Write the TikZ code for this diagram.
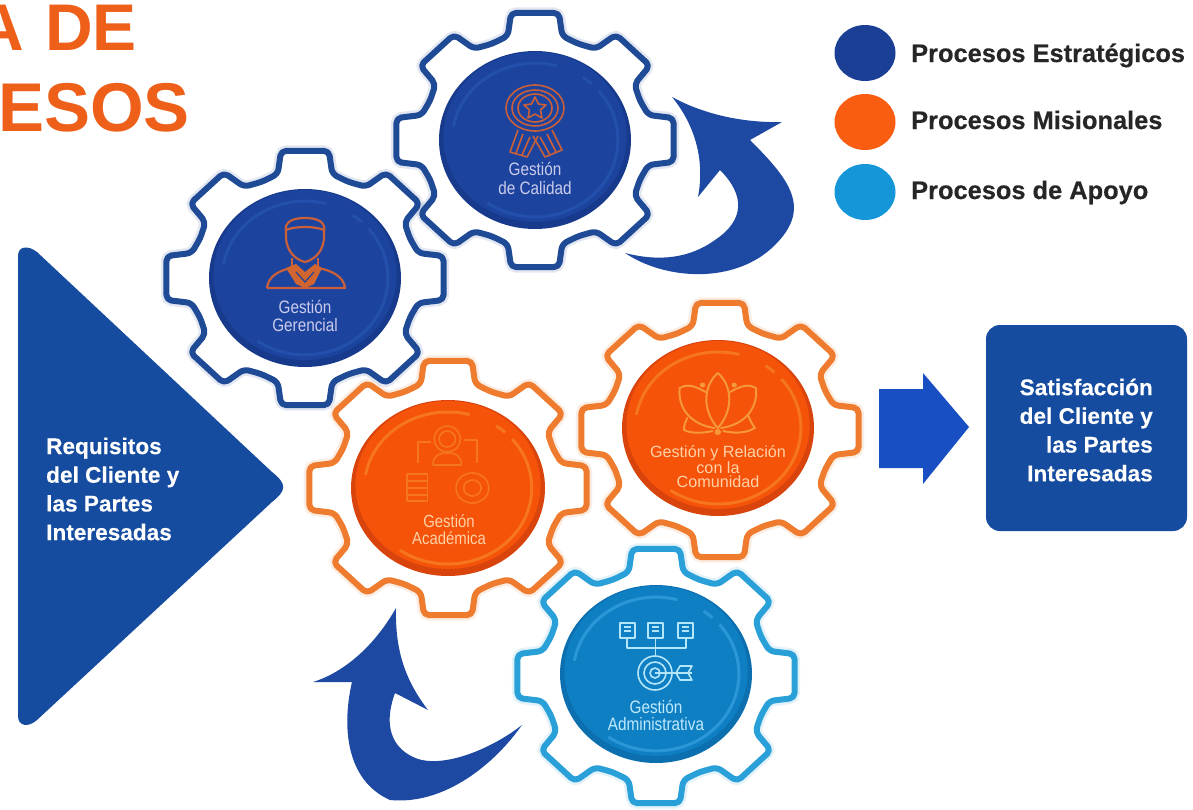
\documentclass[tikz,border=0pt]{standalone}
\usepackage{fontspec}
\setmainfont{Liberation Sans}
\newfontfamily\narrowfont[FakeStretch=0.85]{Liberation Sans}
\definecolor{bluegear}{HTML}{1F4A96}
\definecolor{bluedisc}{HTML}{1C449E}
\definecolor{bluedark}{HTML}{173A8C}
\definecolor{bluering}{HTML}{2350AC}
\definecolor{orgear}{HTML}{EE7B2E}
\definecolor{ordisc}{HTML}{F5520A}
\definecolor{ordark}{HTML}{D9430C}
\definecolor{orring}{HTML}{F5761E}
\definecolor{cygear}{HTML}{2AA0D8}
\definecolor{cydisc}{HTML}{0F7FC4}
\definecolor{cydark}{HTML}{0C70B0}
\definecolor{cyring}{HTML}{2A97D6}
\definecolor{arrowblue}{HTML}{1D49A3}
\definecolor{boxblue}{HTML}{164C9F}
\definecolor{blockblue}{HTML}{184FC2}
\definecolor{titleor}{HTML}{EE5F1A}
\definecolor{iconor}{HTML}{C9603A}
\definecolor{lotusor}{HTML}{F5983A}
\definecolor{legblue}{HTML}{1B3F94}
\definecolor{legor}{HTML}{F95D12}
\definecolor{legcy}{HTML}{1596D8}
\tikzset{
  gearline/.style={line width=6pt,fill=white,rounded corners=5pt,line join=round,
     preaction={draw=#1,line width=11pt,opacity=.13}},
  bigtext/.style={font=\bfseries\addfontfeature{FakeBold=0.3}\fontsize{22.6}{28.7}\selectfont,text=white,inner sep=0pt},
  legtext/.style={font=\bfseries\addfontfeature{FakeBold=0.4}\fontsize{25.4}{28}\selectfont,text=black!85,inner sep=0pt,anchor=base west},
  medalline/.style={draw=iconor,line width=1.6pt,line join=round},
  personline/.style={draw=iconor,line width=2.2pt,line join=round},
  lotusline/.style={draw=lotusor,line width=2pt,line join=round,line cap=round},
}
% gear: cx cy xscale linecolor
\newcommand{\makegear}[4]{%
  \begin{scope}[shift={(#1,#2)},xscale=#3]
    \draw[gearline=#4,draw=#4] (-22.5:104)
      \foreach \a in {0,45,...,270} {
        -- (\a-13.5:107) -- (\a-9.8:129) -- (\a+9.8:129) -- (\a+13.5:107) -- (\a+22.5:104)
      }
      -- (301.5:107) -- (305.2:129) -- (324.8:129) -- (328.5:107) -- cycle;
  \end{scope}}
% disc: cx cy rx ry dark main ring
\newcommand{\makedisc}[7]{%
  \begin{scope}[shift={(#1,#2)},xscale=#3/88,yscale=#4/88]
    \fill[#5] (0,0) circle[radius=88];
    \fill[#6] (0,-3) circle[radius=84];
    \draw[#7,line width=3pt] (-40:76) arc[start angle=-40,end angle=125,radius=76];
    \draw[#7,line width=3pt] (190:76) arc[start angle=190,end angle=285,radius=76];
    \draw[#7,line width=3pt] (-55:76) arc[start angle=-55,end angle=-47,radius=76];
  \end{scope}}
\begin{document}
\begin{tikzpicture}[x=1pt,y=-1pt]
\useasboundingbox (0,0) rectangle (1193,809);
\fill[white] (0,0) rectangle (1193,809);
% title
\begin{scope}
\clip (0,0) rectangle (1193,809);
\node[font=\bfseries\fontsize{66}{66}\selectfont,text=titleor,inner sep=0pt,anchor=base east] (tita) at (137,50) {A\hspace{3pt} DE};
\node[font=\bfseries\fontsize{69}{69}\selectfont,text=titleor,inner sep=0pt,anchor=base east] (titb) at (190,131) {ESOS};
\end{scope}
% triangle
\fill[boxblue] (18,256) .. controls (18,246) and (28,245) .. (37,252) -- (272,472) .. controls (287,484) and (287,490) .. (272,502) -- (37,720) .. controls (28,728) and (18,726) .. (18,716) -- cycle;
\node[bigtext,anchor=west,align=left] (req) at (46,489) {Requisitos\\del Cliente y\\las Partes\\Interesadas};
% gears
\makegear{535}{140}{1.09}{bluegear}
\makegear{305}{278}{1.09}{bluegear}
\makegear{656}{676}{1.09}{cygear}
\makegear{720}{430}{1.09}{orgear}
\makegear{448}{488}{1.09}{orgear}
\makedisc{535}{140}{96}{89}{bluedark}{bluedisc}{bluering}
\makedisc{305}{278}{96}{89}{bluedark}{bluedisc}{bluering}
\makedisc{656}{674}{96}{89}{cydark}{cydisc}{cyring}
\makedisc{718}{428}{96}{88}{ordark}{ordisc}{orring}
\makedisc{448}{488}{97}{88}{ordark}{ordisc}{orring}
% medal icon
\draw[medalline] (535,108) ellipse[x radius=29,y radius=23];
\draw[medalline] (535,108) ellipse[x radius=23,y radius=18];
\draw[medalline] (535,108) ellipse[x radius=17,y radius=14];
\draw[medalline] (535,97) -- (538.5,104) -- (546,105) -- (540.5,110) -- (542,118) -- (535,114) -- (528,118) -- (529.5,110) -- (524,105) -- (531.5,104) -- cycle;
\draw[medalline] (518,130) -- (510,152) -- (527,157) -- (538,136);
\draw[medalline] (552,130) -- (562,150) -- (545,157) -- (533,136);
\draw[medalline] (523,134) -- (516,153) (530,137) -- (522,155);
\draw[medalline] (547,134) -- (556,152) (540,137) -- (550,155);
% person icon
\draw[personline] (286,232) .. controls (284,222) and (292,218) .. (305,218) .. controls (318,218) and (326,222) .. (324,232) .. controls (325,245) and (320,258) .. (305,262) .. controls (290,258) and (285,245) .. (286,232) -- cycle;
\draw[personline] (286,230) .. controls (295,226) and (315,226) .. (324,230);
\draw[personline] (292,258) -- (292,268) (318,258) -- (318,268);
\draw[personline] (267,288) .. controls (268,276) and (280,270) .. (292,268) (318,268) .. controls (330,270) and (344,276) .. (345,288) -- (267,288);
\fill[iconor!85!orange] (286,268) -- (296,264) -- (305,272) -- (315,264) -- (322,268) -- (314,284) -- (305,288) -- (296,284) -- cycle;
\draw[bluedisc,line width=1.2pt] (296,272) -- (305,282) -- (314,272);
% academic icon
\begin{scope}[shift={(300,0)},xscale=1.0909,shift={(-300,0)},draw=orring,line width=1.6pt,line join=round]
\draw (435,439) circle[x radius=7.5,y radius=8];
\draw (435,439) circle[x radius=12,y radius=13];
\draw (422,465) .. controls (422,455) and (428,453) .. (435,453) .. controls (442,453) and (448,455) .. (448,465) -- cycle;
\draw (408,463) -- (408,442) -- (420,442);
\draw (450,440) -- (462,440) -- (462,463);
\draw (398,474) rectangle (417,501);
\draw (398,481) -- (417,481) (398,488) -- (417,488) (398,495) -- (417,495);
\draw (458,488) circle[radius=15];
\draw (458,488) circle[radius=8];
\end{scope}
% lotus icon
\begin{scope}[shift={(300,0)},xscale=1.0909,shift={(-300,0)}]
\draw[lotusline] (683,373) .. controls (670,385) and (668,410) .. (683,428) .. controls (698,410) and (696,385) .. (683,373);
\draw[lotusline] (672,392) .. controls (660,385) and (655,384) .. (648,388) .. controls (646,410) and (660,425) .. (680,428);
\draw[lotusline] (694,392) .. controls (706,385) and (711,384) .. (718,388) .. controls (720,410) and (706,425) .. (686,428);
\draw[lotusline] (655,418) .. controls (652,425) and (652,428) .. (652,430) .. controls (660,434) and (670,433) .. (678,431);
\draw[lotusline] (711,416) .. controls (714,424) and (716,426) .. (717,428) .. controls (708,434) and (696,433) .. (688,431);
\fill[lotusor] (669,385) circle[radius=2.5] (698,385) circle[radius=2.5] (683,432) circle[radius=3];
\end{scope}
% target icon
\begin{scope}[draw=white!70!cyan,line width=1.6pt,line join=round]
\draw (620,623) rectangle (635,638);
\draw (648,623) rectangle (663,638);
\draw (678,623) rectangle (693,638);
\draw (624,627) -- (631,627) (624,631) -- (631,631) (652,627) -- (659,627) (652,631) -- (659,631) (682,627) -- (689,627) (682,631) -- (689,631);
\draw (627,638) -- (627,648) -- (686,648) -- (686,638) (655.5,638) -- (655.5,656);
\draw (655,673) circle[radius=17];
\draw (655,673) circle[radius=11];
\draw (655,673) circle[radius=5];
\draw (655,673) -- (692,673);
\draw (680,666) -- (692,666) -- (688,673) -- (692,680) -- (680,680) -- (676,673) -- cycle;
\end{scope}
% gear labels
\node[font=\narrowfont\fontsize{18}{19}\selectfont,text=blue!15!white!85!gray,inner sep=0pt,align=center] (lcal) at (535,178) {Gestión\\de Calidad};
\node[font=\narrowfont\fontsize{18}{18}\selectfont,text=blue!15!white!85!gray,inner sep=0pt,align=center] (lger) at (305,316) {Gestión\\Gerencial};
\node[font=\narrowfont\fontsize{17.5}{17}\selectfont,text=orange!35!white,inner sep=0pt,align=center] (laca) at (449,530) {Gestión\\Académica};
\node[font=\fontsize{16.2}{14}\selectfont,text=orange!35!white,inner sep=0pt,align=center] (lcom) at (718,467) {Gestión y Relación\\con la\\Comunidad};
\node[font=\narrowfont\fontsize{18}{17}\selectfont,text=cyan!25!white,inner sep=0pt,align=center] (ladm) at (656,715) {Gestión\\Administrativa};
% curved arrows
\fill[arrowblue] (625,253) .. controls (665,280) and (735,285) .. (775,245) .. controls (812,208) and (790,180) .. (750,140) -- (782,122) .. controls (745,123) and (705,115) .. (672,97) .. controls (695,125) and (705,160) .. (698,197) -- (720,170) .. controls (745,195) and (745,220) .. (715,240) .. controls (690,258) and (660,262) .. (625,253) -- cycle;
\fill[arrowblue] (396,608) .. controls (375,645) and (345,672) .. (313,682) -- (352,682) .. controls (342,725) and (345,780) .. (390,800) .. controls (440,805) and (490,770) .. (522,725) .. controls (490,750) and (440,770) .. (413,757) .. controls (388,745) and (385,720) .. (395,693) -- (428,710) .. controls (405,680) and (395,650) .. (396,608) -- cycle;
% block arrow
\fill[blockblue] (879,389) -- (923,389) -- (923,373) -- (969,427) -- (923,484) -- (923,468) -- (879,468) -- cycle;
% result box
\fill[boxblue,rounded corners=14pt] (986,325) rectangle (1187,531);
\node[bigtext,anchor=east,align=right] (sat) at (1153,430) {Satisfacción\\del Cliente y\\las Partes\\Interesadas};
% legend
\fill[legblue] (865,53) ellipse[x radius=30.5,y radius=28];
\fill[legor] (865,122) ellipse[x radius=30.5,y radius=28];
\fill[legcy] (865,192) ellipse[x radius=30.5,y radius=28];
\node[legtext] (l1) at (911,62) {Procesos Estratégicos};
\node[legtext] (l2) at (911,129) {Procesos Misionales};
\node[legtext] (l3) at (911,199) {Procesos de Apoyo};
\end{tikzpicture}
\end{document}
